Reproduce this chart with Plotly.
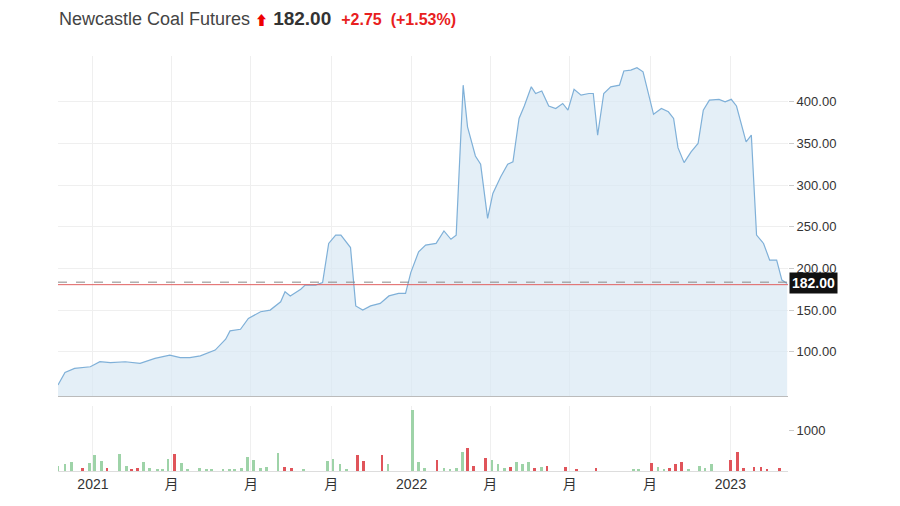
import plotly.graph_objects as go
from plotly.subplots import make_subplots

price_dates = ["2020-11-22","2020-11-30","2020-12-11","2020-12-29","2021-01-09","2021-01-21","2021-02-07","2021-02-24","2021-03-13","2021-03-30",
"2021-04-11","2021-04-22","2021-05-04","2021-05-21","2021-06-02","2021-06-07","2021-06-19","2021-06-28","2021-07-12","2021-07-23",
"2021-08-04","2021-08-09","2021-08-15","2021-08-27","2021-09-01","2021-09-13","2021-09-21","2021-09-28","2021-10-06","2021-10-12",
"2021-10-23","2021-10-29","2021-11-06","2021-11-15","2021-11-26","2021-12-06","2021-12-17","2021-12-25","2021-12-31","2022-01-09",
"2022-01-17","2022-01-29","2022-02-07","2022-02-15","2022-02-21","2022-03-01","2022-03-06","2022-03-15","2022-03-21","2022-03-29",
"2022-04-04","2022-04-13","2022-04-21","2022-04-27","2022-05-04","2022-05-10","2022-05-18","2022-05-23","2022-05-30","2022-06-07",
"2022-06-15","2022-06-23","2022-06-29","2022-07-06","2022-07-14","2022-07-23","2022-07-28","2022-08-02","2022-08-09","2022-08-17",
"2022-08-27","2022-09-01","2022-09-09","2022-09-16","2022-09-23","2022-10-05","2022-10-14","2022-10-22","2022-10-28","2022-11-02",
"2022-11-09","2022-11-17","2022-11-25","2022-12-01","2022-12-08","2022-12-19","2022-12-26","2023-01-02","2023-01-08","2023-01-13",
"2023-01-19","2023-01-25","2023-01-31","2023-02-08","2023-02-15","2023-02-23","2023-03-01","2023-03-07"]
price_values = [60,75,80,82,88,87,88,86,92,96,
93,93,95,102,115,125,127,140,148,150,
160,172,167,175,180,180,183,230,240,240,
225,155,150,155,158,167,170,170,195,220,
228,230,245,235,240,420,370,335,325,260,
290,310,325,328,380,395,418,410,413,395,
392,398,390,415,408,410,410,360,410,418,
420,437,438,441,436,385,392,388,380,345,
327,340,350,390,402,403,400,403,395,375,
352,360,240,230,210,210,186,182]

vol_dates = ["2020-11-22","2020-11-30","2020-12-07","2020-12-20","2020-12-28","2021-01-03","2021-01-11","2021-01-17","2021-01-31","2021-02-08",
"2021-02-14","2021-02-21","2021-02-28","2021-03-07","2021-03-16","2021-03-22","2021-03-28","2021-04-04","2021-04-12","2021-04-19",
"2021-05-03","2021-05-11","2021-05-17","2021-05-30","2021-06-06","2021-06-12","2021-06-20","2021-06-27","2021-07-04","2021-07-12",
"2021-07-19","2021-08-01","2021-08-08","2021-08-16","2021-08-30","2021-09-27","2021-10-03","2021-10-11","2021-10-18","2021-10-31",
"2021-11-07","2021-11-28","2021-12-05","2022-01-02","2022-01-09","2022-01-16","2022-01-30","2022-02-07","2022-02-14","2022-02-21",
"2022-02-28","2022-03-06","2022-03-13","2022-03-27","2022-04-03","2022-04-10","2022-04-17","2022-04-24","2022-05-01","2022-05-08",
"2022-05-15","2022-05-22","2022-05-30","2022-06-05","2022-06-26","2022-07-09","2022-07-31","2022-09-12","2022-09-18","2022-10-03",
"2022-10-10","2022-10-17","2022-10-23","2022-10-30","2022-11-06","2022-11-14","2022-11-27","2022-12-03","2022-12-10","2023-01-01",
"2023-01-09","2023-01-16","2023-01-28","2023-02-05","2023-02-12","2023-02-26"]
vol_values = [117,156,210,62,195,374,250,62,405,117,
47,62,218,62,31,31,281,405,187,31,
62,31,31,23,23,31,62,335,257,78,
94,429,94,62,23,234,296,156,31,374,
250,374,156,1480,218,62,273,78,39,62,
468,546,117,312,273,156,62,94,210,156,
218,62,94,117,94,31,62,31,23,179,
94,47,78,156,210,47,109,62,156,273,
468,62,94,94,31,62]
vol_up = [1,1,1,0,1,1,1,0,1,1,
0,0,1,1,1,1,1,0,1,1,
1,1,1,1,1,1,1,1,1,1,
1,1,0,0,1,1,1,1,1,0,
0,0,1,1,1,1,0,1,1,1,
1,0,0,0,1,1,1,0,1,1,
1,0,1,0,0,0,0,1,1,0,
1,1,0,0,0,1,1,1,1,0,
0,0,0,0,0,0]

tick_vals = ["2021-01-01","2021-04-01","2021-07-01","2021-10-01","2022-01-01","2022-04-01","2022-07-01","2022-10-01","2023-01-01"]
tick_text = ["2021","月","月","月","2022","月","月","月","2023"]
last_price = 182.00

fig = make_subplots(rows=2, cols=1, shared_xaxes=True, row_heights=[0.84, 0.16], vertical_spacing=0.025)
fig.add_trace(go.Scatter(x=price_dates, y=price_values, mode="lines",
    line=dict(color="#7fb0d8", width=1.2), fill="tozeroy", fillcolor="rgba(214,230,243,0.65)",
    hoverinfo="skip"), row=1, col=1)
fig.add_trace(go.Bar(x=vol_dates, y=vol_values,
    marker=dict(color=["#9ed3a8" if u else "#e0545a" for u in vol_up], line=dict(width=0)),
    width=3.2*86400000), row=2, col=1)

grid = "#efefef"
font = "Arial, 'Noto Sans CJK SC', sans-serif"
fig.update_xaxes(range=["2020-11-22","2023-03-08"], tickvals=tick_vals, ticktext=tick_text,
    showgrid=True, gridcolor=grid, ticks="", tickfont=dict(size=14, color="#333"))
fig.update_xaxes(showticklabels=False, row=1, col=1, showline=True, linecolor="#bbbbbb", mirror=False)
fig.update_xaxes(showline=True, linecolor="#dddddd", row=2, col=1)
fig.update_yaxes(side="right", showgrid=True, gridcolor=grid, ticks="outside", ticklen=5, tickcolor="#ccc",
    tickfont=dict(size=13, color="#333"), zeroline=False)
fig.update_yaxes(range=[47, 455], tickvals=[100,150,200,250,300,350,400], tickformat=".2f", row=1, col=1)
fig.update_yaxes(range=[0, 1585], tickvals=[1000], row=2, col=1, showgrid=False)

fig.add_hline(y=last_price+1.5, line=dict(color="#888", width=1, dash="dash"), row=1, col=1)
fig.add_hline(y=last_price-1.5, line=dict(color="#e06060", width=1), row=1, col=1)
fig.add_annotation(x=1.0, xref="paper", y=last_price, yref="y", text="<b>182.00</b>", showarrow=False,
    xanchor="left", xshift=1, bgcolor="#111", font=dict(color="white", size=14, family=font), borderpad=2)

fig.add_annotation(x=0, xref="paper", y=1.06, yref="paper", xanchor="left", yanchor="bottom", showarrow=False, xshift=-1,
    text="<span style='color:#444'>Newcastle Coal Futures</span> <span style='color:#e00;font-size:13px'>⬆</span> <b style='color:#333;font-size:19px'>182.00</b>  <b style='color:#e82020;font-size:16px'>+2.75  (+1.53%)</b>",
    font=dict(size=18, family=font))

fig.update_layout(width=900, height=506, margin=dict(l=50, r=120, t=48, b=43),
    plot_bgcolor="white", paper_bgcolor="white", showlegend=False, bargap=0,
    font=dict(family=font))
fig.write_html("out.html")
